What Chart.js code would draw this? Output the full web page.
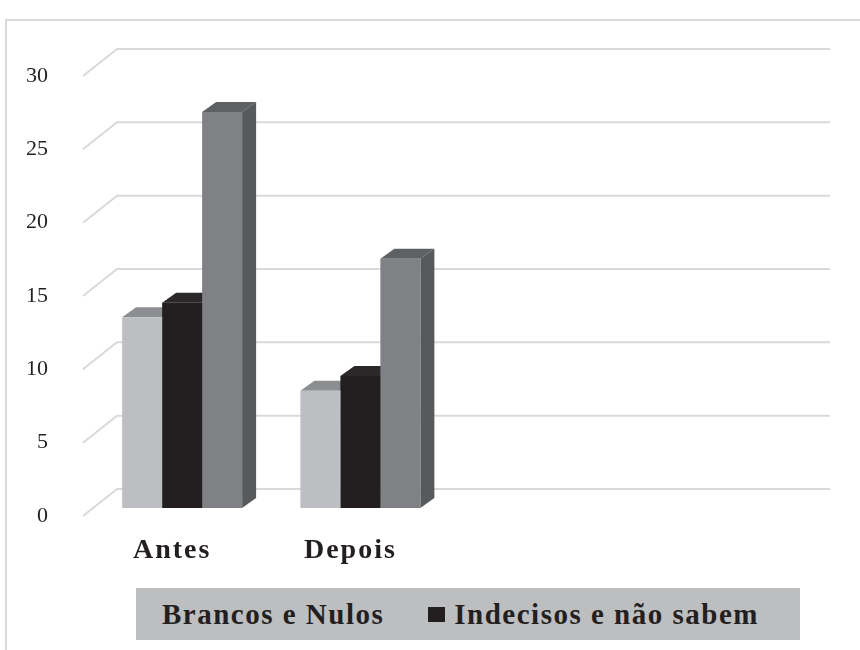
<!DOCTYPE html>
<html>
<head>
<meta charset="utf-8">
<script src="https://cdn.jsdelivr.net/npm/chart.js@4.4.1/dist/chart.umd.min.js"></script>
<style>
html,body{margin:0;padding:0;background:#fff;}
#wrap{position:relative;width:860px;height:650px;overflow:hidden;}
#frame{position:absolute;left:5px;top:19px;width:900px;height:700px;border-left:2px solid #d9d9d9;border-top:2px solid #d9d9d9;box-sizing:border-box;}
#c{position:absolute;left:0;top:0;}
#legend{position:absolute;left:136px;top:588px;width:664px;height:52px;background:#bdbec0;overflow:hidden;white-space:nowrap;
  font-family:'Liberation Serif',serif;font-weight:bold;font-size:29px;letter-spacing:1.5px;color:#231f20;display:flex;align-items:center;}
#legend .item{display:inline-flex;align-items:center;margin-right:44px;flex:none;}
#legend .sw{display:inline-block;width:17px;height:15px;margin-right:9px;}
</style>
</head>
<body>
<div id="wrap">
  <div id="frame"></div>
  <canvas id="c" width="860" height="650"></canvas>
  <div id="legend"></div>
</div>
<script>
// ---- data ----
const categories = ['Antes', 'Depois', '', ''];
const seriesNames = ['Brancos e Nulos', 'Indecisos e não sabem', 'Outros'];
const brancosNulos = [13, 8, null, null];
const indecisos = [14, 9, null, null];
const terceiraSerie = [27, 17, null, null];
const yTickValues = [0, 5, 10, 15, 20, 25, 30];

// ---- styles ----
const frontColors = ['#bdbec1', '#231f20', '#808184'];
const topColors = ['#8d8e91', '#2c2829', '#5f6062'];
const sideColors = ['#8d8e91', '#1a1718', '#58595b'];
const BAR_D = 14, BAR_E = 10;       // bar depth offset (x right, y up)
const WALL_DX = 24, WALL_DY = 19;   // bar plane -> back wall
const FRONT_DX = 10, FRONT_DY = 8;  // bar plane -> front floor edge

const seriesValues = [brancosNulos, indecisos, terceiraSerie];

const threeD = {
  id: 'threeD',
  beforeDraw(chart) {
    const xs = chart.scales.x;
    if (xs && !xs._lsPatched) {
      const orig = xs.drawLabels.bind(xs);
      xs.drawLabels = function (a) {
        const c = this.ctx; const p = c.letterSpacing;
        c.letterSpacing = '2px'; orig(a); c.letterSpacing = p || '0px';
      };
      xs._lsPatched = true;
    }
  },
  beforeDatasetsDraw(chart) {
    const ctx = chart.ctx, ys = chart.scales.y, ca = chart.chartArea;
    ctx.save();
    ctx.strokeStyle = '#d9d9d9';
    ctx.lineWidth = 2;
    yTickValues.forEach(v => {
      const y = ys.getPixelForValue(v);
      ctx.beginPath();
      ctx.moveTo(ca.left - FRONT_DX, y + FRONT_DY);
      ctx.lineTo(ca.left + WALL_DX, y - WALL_DY);
      ctx.lineTo(ca.right + WALL_DX, y - WALL_DY);
      ctx.stroke();
    });
    const n = categories.length;
    for (let j = 0; j < n; j++) {
      chart.data.datasets.forEach((ds, i) => {
        if (ds.data[j] == null) return;
        const bar = chart.getDatasetMeta(i).data[j];
        const p = bar.getProps(['x', 'y', 'base', 'width'], true);
        const l = p.x - p.width / 2, r = p.x + p.width / 2;
        ctx.fillStyle = topColors[i];
        ctx.beginPath();
        ctx.moveTo(l, p.y); ctx.lineTo(l + BAR_D, p.y - BAR_E);
        ctx.lineTo(r + BAR_D, p.y - BAR_E); ctx.lineTo(r, p.y);
        ctx.closePath(); ctx.fill();
        ctx.fillStyle = sideColors[i];
        ctx.beginPath();
        ctx.moveTo(r, p.y); ctx.lineTo(r + BAR_D, p.y - BAR_E);
        ctx.lineTo(r + BAR_D, p.base - BAR_E); ctx.lineTo(r, p.base);
        ctx.closePath(); ctx.fill();
      });
    }
    ctx.restore();
  }
};

const htmlLegend = {
  id: 'htmlLegend',
  afterUpdate(chart) {
    const box = document.getElementById('legend');
    box.innerHTML = '';
    const items = Chart.defaults.plugins.legend.labels.generateLabels(chart)
      .sort((a, b) => a.datasetIndex - b.datasetIndex);
    items.forEach(it => {
      const d = document.createElement('span'); d.className = 'item';
      const sw = document.createElement('span'); sw.className = 'sw';
      sw.style.background = it.fillStyle;
      const t = document.createElement('span'); t.textContent = it.text;
      d.appendChild(sw); d.appendChild(t); box.appendChild(d);
    });
  }
};

new Chart(document.getElementById('c'), {
  type: 'bar',
  data: {
    labels: categories,
    datasets: seriesNames.map((name, i) => ({
      label: name,
      data: seriesValues[i],
      backgroundColor: frontColors[i],
      borderWidth: 0,
      barPercentage: 1,
      categoryPercentage: 0.673
    }))
  },
  options: {
    responsive: false,
    animation: false,
    layout: { padding: { top: 68, right: 54, left: 0, bottom: 72 } },
    scales: {
      x: {
        grid: { display: false, drawTicks: false },
        border: { display: false },
        ticks: {
          color: '#231f20',
          font: { family: 'Liberation Serif', size: 28, weight: 'bold' },
          labelOffset: -10,
          padding: 26,
          maxRotation: 0
        },
        afterFit(s) { s.height = 70; }
      },
      y: {
        min: 0, max: 30,
        grid: { display: false, drawTicks: false },
        border: { display: false },
        afterBuildTicks(s) { s.ticks = yTickValues.map(v => ({ value: v })); },
        ticks: {
          color: '#231f20',
          font: { family: 'Liberation Serif', size: 22 },
          padding: 45,
          labelOffset: 8
        },
        afterFit(s) { s.width = 93; }
      }
    },
    plugins: {
      legend: { display: false },
      tooltip: { enabled: false }
    }
  },
  plugins: [threeD, htmlLegend]
});
</script>
</body>
</html>
